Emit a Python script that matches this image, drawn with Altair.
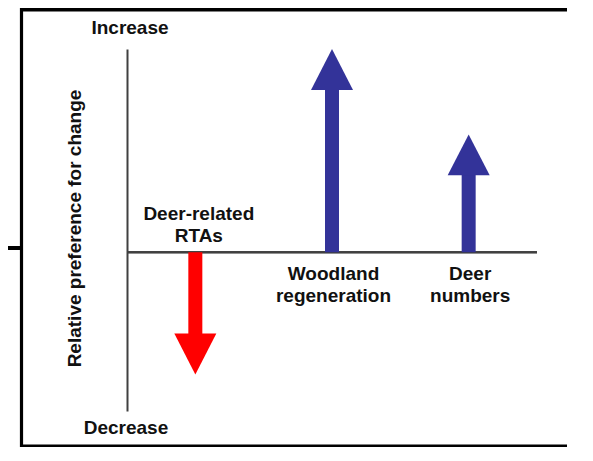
import altair as alt
import pandas as pd

# ---- data ----
categories = ["Deer-related RTAs", "Woodland regeneration", "Deer numbers"]
labels = ["Deer-related\nRTAs", "Woodland\nregeneration", "Deer\nnumbers"]
values = [-0.60, 1.00, 0.58]          # relative preference for change
colors = ["#FF0000", "#333399", "#333399"]
y_domain = [-0.78, 1.00]
head_len = 0.198                      # arrow-head length in data units

df = pd.DataFrame({"cat": categories, "label": labels, "value": values, "color": colors})
one = pd.DataFrame({"a": [0]})

FONT = "Liberation Sans"
TXT = "#111111"
AX = "#404040"

xenc = alt.X("cat:N", sort=categories, axis=None,
             scale=alt.Scale(paddingInner=0, paddingOuter=0))
yscale = alt.Scale(domain=y_domain, nice=False, zero=False)

base = alt.Chart(df)

# arrow shafts (bars from 0 to the head base)
shafts = base.transform_calculate(
    shaft="datum.value - (datum.value > 0 ? 1 : -1) * %f" % head_len
).mark_bar(width=14).encode(
    x=xenc,
    y=alt.Y("shaft:Q", scale=yscale,
            axis=alt.Axis(title="Relative preference for change", domain=True,
                          domainColor=AX, domainWidth=2, ticks=False, labels=False,
                          grid=False, titleFont=FONT, titleFontSize=19,
                          titleFontWeight="bold", titleColor=TXT, titleAngle=270,
                          titleAlign="center", titleBaseline="alphabetic",
                          titleX=-47, titleY=179)),
    color=alt.Color("color:N", scale=None),
)

up_path = "M0,0L-1,1.95L1,1.95Z"
down_path = "M0,0L-1,-1.95L1,-1.95Z"

heads_up = base.transform_filter("datum.value > 0").mark_point(
    shape=up_path, size=1764, filled=True, opacity=1, strokeWidth=0
).encode(x=xenc, y=alt.Y("value:Q", scale=yscale), color=alt.Color("color:N", scale=None))

heads_down = base.transform_filter("datum.value < 0").mark_point(
    shape=down_path, size=1764, filled=True, opacity=1, strokeWidth=0
).encode(x=xenc, y=alt.Y("value:Q", scale=yscale), color=alt.Color("color:N", scale=None))

zero_line = base.mark_rule(color=AX, strokeWidth=2).encode(y=alt.datum(0))

txt = dict(font=FONT, fontSize=19, fontWeight="bold", color=TXT,
           lineBreak="\n", lineHeight=22.5, baseline="alphabetic", align="center")

labels_pos = base.transform_filter("datum.value > 0").mark_text(dy=27.6, dx=1.5, **txt).encode(
    x=xenc, y=alt.datum(0), text="label:N")
labels_neg = base.transform_filter("datum.value < 0").mark_text(dy=-32.4, dx=3.5, **txt).encode(
    x=xenc, y=alt.datum(0), text="label:N")

inc = alt.Chart(one).mark_text(text="Increase", **txt).encode(
    x=alt.value(3), y=alt.value(-15))
dec = alt.Chart(one).mark_text(text="Decrease", **txt).encode(
    x=alt.value(-1), y=alt.value(385))

# outer frame (decoration)
fr = alt.Chart(one)
frame_left = fr.mark_rule(color="black", strokeWidth=3.2).encode(
    x=alt.value(-105.5), y=alt.value(-41), y2=alt.value(399))
frame_top = fr.mark_rule(color="black", strokeWidth=3.4).encode(
    y=alt.value(-39.3), x=alt.value(-107), x2=alt.value(470))
frame_bottom = fr.mark_rule(color="black", strokeWidth=3.4).encode(
    y=alt.value(397.3), x=alt.value(-107), x2=alt.value(470))
stub = fr.mark_rule(color="black", strokeWidth=4).encode(
    y=alt.value(199), x=alt.value(-120), x2=alt.value(-106))

chart = alt.layer(
    frame_left, frame_top, frame_bottom, stub,
    zero_line, shafts, heads_up, heads_down,
    labels_pos, labels_neg, inc, dec,
).properties(
    width=410, height=362,
    autosize=alt.AutoSizeParams(type="none"),
    padding={"left": 119, "top": 41, "right": 30, "bottom": 36},
).configure_view(stroke=None)

chart.save("out.html", embed_options={"renderer": "svg", "actions": False})
